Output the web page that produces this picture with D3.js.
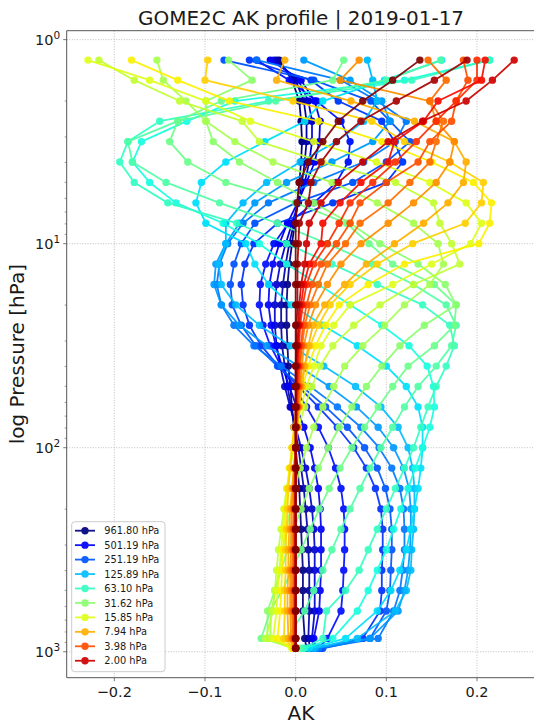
<!DOCTYPE html>
<html>
<head>
<meta charset="utf-8">
<script src="https://cdn.jsdelivr.net/npm/d3@7"></script>
<style>
  body { margin: 0; background: #fff; }
  svg { display: block; }
  text { font-family: "DejaVu Sans", sans-serif; fill: #1a1a1a; }
</style>
</head>
<body>
<svg id="chart" width="534" height="726"></svg>
<script>
// Retrieval pressure levels (hPa), surface first
const pressureLevels = [961.80, 860.0, 630.96, 501.19, 398.11, 316.23, 251.19, 199.53, 158.49, 125.89,
  100.0, 79.43, 63.10, 50.12, 39.81, 31.62, 25.12, 19.95, 15.85, 12.59,
  10.0, 7.94, 6.31, 5.01, 3.98, 3.16, 2.51, 2.00, 1.58, 1.26];

// Averaging-kernel rows, one per level, values listed from the surface level upward
const akRow00 = [0.012, 0.010, 0.008, 0.008, 0.008, 0.007, 0.006, 0.005, 0.004, 0.002, 0.000, -0.002, -0.004, -0.006, -0.008, -0.009, -0.010, -0.010, -0.009, -0.007, -0.004, -0.001, 0.002, 0.004, 0.006, 0.007, 0.006, 0.004, -0.004, -0.018];
const akRow01 = [0.016, 0.014, 0.015, 0.015, 0.015, 0.014, 0.013, 0.011, 0.009, 0.006, 0.003, -0.001, -0.005, -0.009, -0.012, -0.015, -0.016, -0.016, -0.014, -0.011, -0.007, -0.002, 0.003, 0.007, 0.010, 0.012, 0.012, 0.009, 0.000, -0.021];
const akRow02 = [0.020, 0.018, 0.021, 0.021, 0.021, 0.021, 0.020, 0.018, 0.015, 0.011, 0.006, 0.000, -0.006, -0.012, -0.017, -0.021, -0.023, -0.023, -0.021, -0.017, -0.011, -0.004, 0.003, 0.010, 0.015, 0.018, 0.018, 0.014, 0.003, -0.024];
const akRow03 = [0.022, 0.020, 0.026, 0.027, 0.028, 0.028, 0.028, 0.027, 0.025, 0.021, 0.016, 0.009, 0.001, -0.007, -0.015, -0.022, -0.027, -0.030, -0.029, -0.025, -0.018, -0.009, 0.002, 0.012, 0.021, 0.026, 0.027, 0.021, 0.006, -0.028];
const akRow04 = [0.025, 0.035, 0.050, 0.052, 0.053, 0.054, 0.054, 0.053, 0.050, 0.044, 0.036, 0.025, 0.012, -0.002, -0.016, -0.028, -0.036, -0.040, -0.039, -0.033, -0.024, -0.008, 0.020, 0.045, 0.058, 0.060, 0.050, 0.023, -0.007, -0.043];
const akRow05 = [0.028, 0.074, 0.093, 0.095, 0.095, 0.096, 0.096, 0.094, 0.088, 0.078, 0.064, 0.046, 0.025, 0.003, -0.019, -0.038, -0.051, -0.058, -0.060, -0.056, -0.046, -0.020, 0.041, 0.100, 0.118, 0.109, 0.095, 0.047, 0.017, -0.051];
const akRow06 = [0.030, 0.082, 0.100, 0.104, 0.105, 0.106, 0.106, 0.104, 0.099, 0.090, 0.076, 0.057, 0.033, 0.007, -0.020, -0.044, -0.060, -0.070, -0.072, -0.068, -0.060, -0.045, 0.000, 0.063, 0.100, 0.126, 0.104, 0.083, 0.020, -0.079];
const akRow07 = [0.025, 0.091, 0.108, 0.115, 0.118, 0.120, 0.120, 0.119, 0.115, 0.106, 0.092, 0.072, 0.046, 0.016, -0.016, -0.046, -0.068, -0.082, -0.087, -0.084, -0.075, -0.058, -0.030, 0.020, 0.075, 0.110, 0.122, 0.090, 0.050, -0.043];
const akRow08 = [0.022, 0.082, 0.113, 0.120, 0.124, 0.126, 0.127, 0.127, 0.125, 0.119, 0.108, 0.091, 0.067, 0.037, 0.003, -0.032, -0.062, -0.082, -0.090, -0.088, -0.077, -0.062, -0.045, -0.010, 0.040, 0.085, 0.104, 0.095, 0.060, 0.009];
const akRow09 = [0.020, 0.068, 0.110, 0.122, 0.127, 0.128, 0.130, 0.131, 0.131, 0.129, 0.124, 0.113, 0.094, 0.066, 0.031, -0.006, -0.040, -0.066, -0.082, -0.085, -0.077, -0.077, -0.058, -0.032, 0.005, 0.045, 0.075, 0.090, 0.085, 0.079];
const akRow10 = [0.015, 0.055, 0.090, 0.105, 0.115, 0.122, 0.127, 0.131, 0.135, 0.138, 0.140, 0.140, 0.135, 0.122, 0.100, 0.068, 0.030, -0.005, -0.030, -0.045, -0.055, -0.099, -0.110, -0.104, -0.077, -0.034, 0.010, 0.030, 0.098, 0.161];
const akRow11 = [0.010, 0.041, 0.068, 0.080, 0.090, 0.100, 0.108, 0.116, 0.124, 0.132, 0.140, 0.148, 0.153, 0.152, 0.145, 0.125, 0.095, 0.060, 0.025, -0.010, -0.040, -0.080, -0.132, -0.161, -0.180, -0.170, -0.120, -0.067, 0.120, 0.214];
const akRow12 = [0.008, 0.030, 0.034, 0.055, 0.070, 0.080, 0.090, 0.100, 0.110, 0.120, 0.130, 0.138, 0.146, 0.155, 0.166, 0.175, 0.170, 0.140, 0.090, 0.040, -0.010, -0.065, -0.141, -0.178, -0.194, -0.185, -0.150, -0.030, 0.128, 0.214];
const akRow13 = [0.004, -0.010, 0.010, 0.020, 0.030, 0.040, 0.050, 0.060, 0.071, 0.082, 0.094, 0.107, 0.120, 0.135, 0.155, 0.172, 0.177, 0.166, 0.130, 0.085, 0.035, -0.020, -0.084, -0.143, -0.180, -0.185, -0.130, -0.022, 0.100, 0.160];
const akRow14 = [0.001, -0.038, -0.028, -0.015, -0.004, 0.006, 0.016, 0.026, 0.037, 0.049, 0.062, 0.076, 0.091, 0.107, 0.124, 0.153, 0.175, 0.177, 0.153, 0.107, 0.081, 0.056, 0.000, -0.077, -0.119, -0.139, -0.130, -0.082, 0.041, 0.053];
const akRow15 = [-0.001, -0.031, -0.031, -0.023, -0.016, -0.009, -0.002, 0.006, 0.015, 0.025, 0.036, 0.048, 0.062, 0.078, 0.095, 0.115, 0.142, 0.177, 0.165, 0.135, 0.093, 0.060, 0.020, -0.020, -0.062, -0.091, -0.099, -0.099, -0.048, -0.074];
const akRow16 = [-0.003, -0.028, -0.027, -0.022, -0.018, -0.014, -0.010, -0.006, -0.001, 0.005, 0.012, 0.020, 0.030, 0.042, 0.054, 0.074, 0.098, 0.120, 0.148, 0.163, 0.157, 0.130, 0.090, 0.040, -0.025, -0.067, -0.099, -0.121, -0.146, -0.153];
const akRow17 = [-0.004, -0.033, -0.025, -0.023, -0.021, -0.019, -0.016, -0.013, -0.010, -0.006, -0.002, 0.003, 0.010, 0.018, 0.027, 0.041, 0.064, 0.093, 0.130, 0.181, 0.172, 0.159, 0.152, 0.110, 0.030, -0.040, -0.059, -0.128, -0.178, -0.217];
const akRow18 = [-0.004, -0.025, -0.021, -0.020, -0.018, -0.016, -0.014, -0.012, -0.009, -0.006, -0.003, 0.001, 0.006, 0.012, 0.020, 0.028, 0.042, 0.060, 0.107, 0.150, 0.193, 0.205, 0.188, 0.148, 0.089, 0.020, -0.050, -0.099, -0.161, -0.229];
const akRow19 = [-0.003, -0.020, -0.017, -0.016, -0.015, -0.014, -0.012, -0.011, -0.009, -0.007, -0.004, -0.001, 0.003, 0.008, 0.014, 0.022, 0.033, 0.048, 0.080, 0.120, 0.202, 0.214, 0.216, 0.196, 0.150, 0.095, 0.025, -0.073, -0.130, -0.181];
const akRow20 = [-0.002, -0.013, -0.012, -0.012, -0.011, -0.011, -0.010, -0.009, -0.008, -0.006, -0.004, -0.002, 0.001, 0.005, 0.010, 0.016, 0.025, 0.038, 0.060, 0.090, 0.129, 0.187, 0.205, 0.207, 0.170, 0.120, 0.084, -0.003, -0.100, -0.097];
const akRow21 = [-0.001, -0.008, -0.009, -0.009, -0.008, -0.008, -0.007, -0.006, -0.004, -0.002, 0.000, 0.002, 0.004, 0.007, 0.010, 0.014, 0.019, 0.032, 0.054, 0.078, 0.109, 0.141, 0.168, 0.185, 0.188, 0.175, 0.131, 0.061, -0.021, -0.012];
const akRow22 = [0.000, -0.005, -0.006, -0.006, -0.006, -0.005, -0.005, -0.004, -0.003, -0.002, 0.000, 0.001, 0.003, 0.005, 0.007, 0.009, 0.014, 0.022, 0.035, 0.050, 0.072, 0.102, 0.130, 0.155, 0.170, 0.175, 0.155, 0.148, 0.049, 0.070];
const akRow23 = [0.000, -0.003, -0.004, -0.004, -0.004, -0.003, -0.003, -0.002, -0.002, -0.001, 0.000, 0.001, 0.002, 0.004, 0.005, 0.007, 0.010, 0.016, 0.025, 0.035, 0.055, 0.071, 0.102, 0.126, 0.148, 0.155, 0.163, 0.148, 0.166, 0.146];
const akRow24 = [0.000, -0.002, -0.002, -0.002, -0.002, -0.002, -0.002, -0.001, -0.001, 0.000, 0.000, 0.001, 0.002, 0.003, 0.004, 0.006, 0.008, 0.012, 0.018, 0.028, 0.045, 0.060, 0.071, 0.100, 0.135, 0.148, 0.172, 0.177, 0.190, 0.185];
const akRow25 = [0.000, -0.001, -0.001, -0.001, -0.001, -0.001, -0.001, -0.001, 0.000, 0.000, 0.000, 0.001, 0.001, 0.002, 0.003, 0.004, 0.005, 0.008, 0.012, 0.020, 0.035, 0.048, 0.060, 0.085, 0.110, 0.133, 0.155, 0.177, 0.200, 0.200];
const akRow26 = [0.000, 0.000, 0.000, 0.000, 0.000, 0.000, 0.000, 0.000, 0.000, 0.000, 0.000, 0.000, 0.001, 0.001, 0.002, 0.003, 0.004, 0.006, 0.009, 0.015, 0.028, 0.030, 0.049, 0.072, 0.102, 0.109, 0.141, 0.157, 0.205, 0.209];
const akRow27 = [0.000, 0.000, 0.000, 0.000, 0.000, 0.000, 0.000, 0.000, 0.000, 0.000, 0.000, 0.000, 0.000, 0.001, 0.001, 0.002, 0.003, 0.004, 0.006, 0.010, 0.012, 0.015, 0.028, 0.047, 0.074, 0.102, 0.140, 0.188, 0.217, 0.241];
const akRow28 = [0.000, 0.000, 0.000, 0.000, 0.000, 0.000, 0.000, 0.000, 0.000, 0.000, 0.000, 0.000, 0.000, 0.000, 0.000, 0.001, 0.001, 0.002, 0.002, 0.002, 0.003, 0.004, 0.014, 0.017, 0.028, 0.045, 0.072, 0.111, 0.153, 0.189];
const akRow29 = [0.000, 0.000, 0.000, 0.000, 0.000, 0.000, 0.000, 0.000, 0.000, 0.000, 0.000, 0.000, 0.000, 0.000, 0.000, 0.000, 0.000, 0.000, 0.000, 0.000, 0.000, 0.000, 0.0015, 0.004, 0.014, 0.030, 0.047, 0.074, 0.107, 0.137];

const akRows = [akRow00, akRow01, akRow02, akRow03, akRow04, akRow05, akRow06, akRow07, akRow08, akRow09,
  akRow10, akRow11, akRow12, akRow13, akRow14, akRow15, akRow16, akRow17, akRow18, akRow19,
  akRow20, akRow21, akRow22, akRow23, akRow24, akRow25, akRow26, akRow27, akRow28, akRow29];

const xTicks = [-0.2, -0.1, 0.0, 0.1, 0.2];
const yTickExponents = [0, 1, 2, 3];
const legendEvery = 3;

// matplotlib "jet" colormap
function jet(t) {
  const seg = {
    r: [[0, 0], [0.35, 0], [0.66, 1], [0.89, 1], [1, 0.5]],
    g: [[0, 0], [0.125, 0], [0.375, 1], [0.64, 1], [0.91, 0], [1, 0]],
    b: [[0, 0.5], [0.11, 1], [0.34, 1], [0.65, 0], [1, 0]]
  };
  const f = pts => {
    for (let k = 1; k < pts.length; k++) {
      if (t <= pts[k][0]) {
        const [x0, y0] = pts[k - 1], [x1, y1] = pts[k];
        return y0 + (y1 - y0) * (t - x0) / (x1 - x0);
      }
    }
    return pts[pts.length - 1][1];
  };
  return d3.rgb(255 * f(seg.r), 255 * f(seg.g), 255 * f(seg.b)).formatHex();
}

const svg = d3.select("#chart");
const box = { left: 66.7, right: 535.5, top: 30.7, bottom: 677.7 };

// x domain: data extent plus 5% margin
const allAk = akRows.flat();
const [akMin, akMax] = d3.extent(allAk);
const akPad = 0.05 * (akMax - akMin);
const x = d3.scaleLinear().domain([akMin - akPad, akMax + akPad]).range([box.left, box.right]);

// y domain: log pressure extent plus 5% margin in log space
const lpMin = Math.log10(d3.min(pressureLevels)), lpMax = Math.log10(d3.max(pressureLevels));
const lpPad = 0.05 * (lpMax - lpMin);
const y = d3.scaleLog().domain([10 ** (lpMin - lpPad), 10 ** (lpMax + lpPad)]).range([box.top, box.bottom]);

svg.append("defs").append("clipPath").attr("id", "plotClip")
  .append("rect").attr("x", box.left).attr("y", box.top)
  .attr("width", box.right - box.left).attr("height", box.bottom - box.top);

// grid
const grid = svg.append("g").attr("stroke", "#b0b0b0").attr("stroke-width", 0.8)
  .attr("stroke-dasharray", "1,1.6");
xTicks.forEach(v => grid.append("line").attr("x1", x(v)).attr("x2", x(v)).attr("y1", box.top).attr("y2", box.bottom));
yTickExponents.forEach(e => grid.append("line").attr("x1", box.left).attr("x2", box.right).attr("y1", y(10 ** e)).attr("y2", y(10 ** e)));

// profiles
const n = akRows.length;
const line = d3.line().x(d => x(d.ak)).y(d => y(d.p));
const plotG = svg.append("g").attr("clip-path", "url(#plotClip)");
akRows.forEach((row, i) => {
  const color = jet(i / (n - 1));
  const pts = row.map((ak, j) => ({ ak, p: pressureLevels[j] }));
  const g = plotG.append("g").attr("opacity", 0.92);
  g.append("path").datum(pts).attr("d", line).attr("fill", "none")
    .attr("stroke", color).attr("stroke-width", 1.8).attr("stroke-linejoin", "round");
  g.selectAll("circle").data(pts).join("circle")
    .attr("cx", d => x(d.ak)).attr("cy", d => y(d.p)).attr("r", 3.7).attr("fill", color);
});

// spines
const spine = svg.append("g").attr("stroke", "#555").attr("stroke-width", 1).attr("fill", "none");
spine.append("line").attr("x1", box.left).attr("x2", box.left).attr("y1", box.top).attr("y2", box.bottom);
spine.append("line").attr("x1", box.left).attr("x2", box.right + 5).attr("y1", box.bottom).attr("y2", box.bottom);
spine.append("line").attr("x1", box.left).attr("x2", box.right + 5).attr("y1", box.top).attr("y2", box.top);

// x axis ticks and labels
xTicks.forEach(v => {
  svg.append("line").attr("x1", x(v)).attr("x2", x(v)).attr("y1", box.bottom).attr("y2", box.bottom + 3.5)
    .attr("stroke", "#555").attr("stroke-width", 0.8);
  svg.append("text").attr("x", x(v)).attr("y", 697).attr("text-anchor", "middle")
    .attr("font-size", 14.5).text(d3.format(".1f")(v).replace("-", "\u2212"));
});

// y axis major ticks with power-of-ten labels
yTickExponents.forEach(e => {
  const yy = y(10 ** e);
  svg.append("line").attr("x1", box.left - 3.5).attr("x2", box.left).attr("y1", yy).attr("y2", yy)
    .attr("stroke", "#555").attr("stroke-width", 0.8);
  const t = svg.append("text").attr("x", box.left - 6.5).attr("y", yy + 5.5)
    .attr("text-anchor", "end").attr("font-size", 14.5);
  t.append("tspan").text("10");
  t.append("tspan").attr("font-size", 10.5).attr("dy", -6).text(String(e));
});
// y axis minor ticks
const [pLo, pHi] = y.domain();
for (let e = -1; e <= 3; e++) {
  for (let m = 2; m <= 9; m++) {
    const p = m * 10 ** e;
    if (p < pLo || p > pHi) continue;
    svg.append("line").attr("x1", box.left - 2).attr("x2", box.left).attr("y1", y(p)).attr("y2", y(p))
      .attr("stroke", "#555").attr("stroke-width", 0.6);
  }
}

// titles
svg.append("text").attr("x", 301).attr("y", 25).attr("text-anchor", "middle")
  .attr("font-size", 20).text("GOME2C AK profile | 2019-01-17");
svg.append("text").attr("x", 301).attr("y", 720).attr("text-anchor", "middle")
  .attr("font-size", 20).text("AK");
svg.append("text").attr("transform", `translate(24,${(box.top + box.bottom) / 2}) rotate(-90)`)
  .attr("text-anchor", "middle").attr("font-size", 20).text("log Pressure [hPa]");

// legend
const legendIdx = d3.range(0, n, legendEvery);
const lg = svg.append("g");
lg.append("rect").attr("x", 71.7).attr("y", 521.7).attr("width", 93.3).attr("height", 150)
  .attr("rx", 3).attr("fill", "#fff").attr("fill-opacity", 0.8).attr("stroke", "#cccccc").attr("stroke-width", 1);
legendIdx.forEach((i, k) => {
  const yy = 530.7 + k * 14.45;
  const color = jet(i / (n - 1));
  const g = lg.append("g").attr("opacity", 0.92);
  g.append("line").attr("x1", 75).attr("x2", 95).attr("y1", yy).attr("y2", yy)
    .attr("stroke", color).attr("stroke-width", 1.8);
  g.append("circle").attr("cx", 85).attr("cy", yy).attr("r", 3.7).attr("fill", color);
  lg.append("text").attr("x", 104.3).attr("y", yy + 3.6).attr("font-size", 9.8)
    .text(pressureLevels[i].toFixed(2) + " hPa");
});
</script>
</body>
</html>
